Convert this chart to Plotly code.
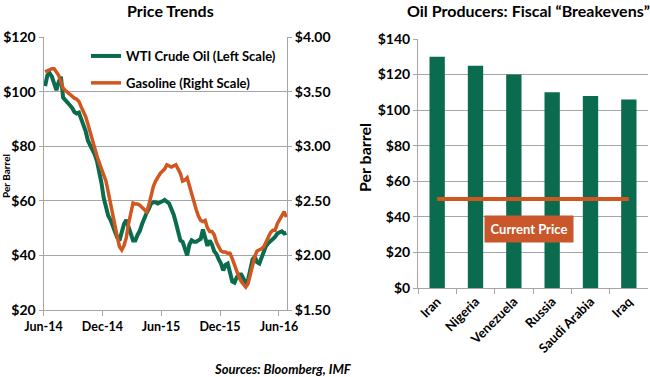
import plotly.graph_objects as go
import pandas as pd

# ---------------- data ----------------
wti = [102, 106, 106.8, 105.5, 103, 100.5, 103.5, 105.5, 97.8, 97,
       96, 95, 94, 92.5, 92, 92.3, 90, 88, 85.5, 82,
       80.5, 79, 77, 74.5, 71, 66.5, 61, 57, 54.5, 53,
       51, 48.5, 46.5, 45.5, 48.5, 51.5, 53, 50, 48, 45.5,
       45.5, 47.5, 49, 51.5, 54, 55.5, 57, 59, 59.5, 59.5,
       59, 59.3, 59.8, 60.3, 59.8, 59, 57, 55, 52, 49,
       45.5, 45, 42, 40, 44, 45.5, 45, 45, 45.5, 46,
       49.5, 46, 43.5, 45.5, 44, 41.5, 40.5, 38.5, 37, 34.5,
       36.5, 37, 34, 30.5, 30, 32, 33, 33, 31.5, 29.5,
       31, 34.5, 38.5, 39.5, 37.5, 37, 39, 41.5, 43.5, 44.5,
       45.5, 46, 46.8, 48, 48.5, 48.8, 48, 48.3]

gasoline = [3.68, 3.69, 3.70, 3.71, 3.71, 3.68, 3.65, 3.59, 3.53, 3.51,
            3.49, 3.47, 3.45, 3.44, 3.43, 3.41, 3.36, 3.32, 3.27, 3.20,
            3.12, 3.05, 2.98, 2.91, 2.85, 2.80, 2.74, 2.68, 2.58, 2.47,
            2.37, 2.27, 2.17, 2.08, 2.05, 2.09, 2.16, 2.29, 2.40, 2.48,
            2.47, 2.47, 2.46, 2.44, 2.42, 2.40, 2.46, 2.55, 2.63, 2.68,
            2.72, 2.75, 2.77, 2.79, 2.83, 2.82, 2.81, 2.82, 2.83, 2.79,
            2.75, 2.68, 2.69, 2.71, 2.63, 2.55, 2.48, 2.42, 2.36, 2.32,
            2.31, 2.32, 2.25, 2.22, 2.22, 2.19, 2.12, 2.07, 2.04, 2.03,
            2.03, 2.02, 2.02, 1.97, 1.91, 1.85, 1.80, 1.76, 1.73, 1.71,
            1.74, 1.82, 1.92, 1.99, 2.04, 2.05, 2.06, 2.08, 2.13, 2.17,
            2.21, 2.23, 2.23, 2.29, 2.33, 2.37, 2.40, 2.35]

dates = pd.date_range("2014-06-06", periods=len(wti), freq="W-FRI")

date_ticks = ["2014-06-01", "2014-12-01", "2015-06-01", "2015-12-01", "2016-06-01"]
date_tick_labels = ["Jun-14", "Dec-14", "Jun-15", "Dec-15", "Jun-16"]

countries = ["Iran", "Nigeria", "Venezuela", "Russia", "Saudi Arabia", "Iraq"]
breakevens = [130, 125, 120, 110, 108, 106]
current_price = 50

# ---------------- style ----------------
GREEN = "#0B6B4E"
ORANGE = "#D2561F"
GRID = "#A6A6A6"
FONT = "Lato"
W, H = 650, 377


def px_x(p):
    return p / W


def px_y(p):
    return 1 - p / H


bold = dict(family=FONT, size=14, color="black", weight="bold")

fig = go.Figure()

fig.add_trace(go.Scatter(x=dates, y=wti, mode="lines", name="WTI Crude Oil (Left Scale)",
                         line=dict(color=GREEN, width=4), xaxis="x", yaxis="y",
                         legendgroup="a"))
fig.add_trace(go.Scatter(x=dates, y=gasoline, mode="lines", name="Gasoline (Right Scale)",
                         line=dict(color=ORANGE, width=3.5), xaxis="x", yaxis="y2",
                         legendgroup="b"))

fig.add_trace(go.Bar(x=countries, y=breakevens, marker=dict(color=GREEN, line=dict(width=0)),
                     xaxis="x2", yaxis="y3", showlegend=False))
fig.add_trace(go.Scatter(x=[countries[0], countries[-1]], y=[current_price, current_price],
                         mode="lines", line=dict(color=ORANGE, width=4),
                         xaxis="x2", yaxis="y3", showlegend=False))

left_dom = [px_x(43.5), px_x(287)]
left_ydom = [px_y(310), px_y(37)]
right_dom = [px_x(418), px_x(648)]
right_ydom = [px_y(288), px_y(39)]

fig.update_layout(
    width=W, height=H,
    margin=dict(l=0, r=0, t=0, b=0, autoexpand=False),
    paper_bgcolor="white", plot_bgcolor="white",
    showlegend=True,
    bargap=0.6,
    legend=dict(x=px_x(86), y=px_y(41), xanchor="left", yanchor="top",
                font=dict(family=FONT, size=13, color="black", weight="bold"),
                bgcolor="rgba(0,0,0,0)", tracegroupgap=7, itemwidth=30),
    xaxis=dict(domain=left_dom, anchor="y", type="date", automargin=False,
               range=["2014-06-01", "2016-06-26"],
               tickvals=date_ticks, ticktext=date_tick_labels,
               ticks="outside", ticklen=5, tickcolor=GRID,
               showline=True, linecolor=GRID, linewidth=1,
               showgrid=False, zeroline=False,
               tickfont=dict(family=FONT, size=12.5, color="black", weight="bold")),
    yaxis=dict(domain=left_ydom, anchor="x", range=[20, 120], dtick=20, automargin=False,
               tickprefix="$", ticks="outside", ticklen=4, tickcolor=GRID,
               showline=True, linecolor=GRID, linewidth=1,
               showgrid=True, gridcolor=GRID, gridwidth=1, zeroline=False,
               tickfont=bold),
    yaxis2=dict(overlaying="y", side="right", anchor="x", range=[1.5, 4.0], dtick=0.5,
                automargin=False,
                tickprefix="$", tickformat=".2f", ticks="outside", ticklen=4, tickcolor=GRID,
                showline=True, linecolor=GRID, linewidth=1,
                showgrid=False, zeroline=False, tickfont=bold),
    xaxis2=dict(domain=right_dom, anchor="y3", type="category", automargin=False,
                tickangle=-45, ticks="outside", ticklen=5, tickcolor=GRID,
                tickson="boundaries",
                showline=True, linecolor=GRID, linewidth=1,
                showgrid=False, zeroline=False,
                tickfont=dict(family=FONT, size=13, color="black", weight="bold")),
    yaxis3=dict(domain=right_ydom, anchor="x2", range=[0, 140], dtick=20, automargin=False,
                tickprefix="$", ticks="outside", ticklen=4, tickcolor=GRID,
                showline=True, linecolor=GRID, linewidth=1,
                showgrid=True, gridcolor=GRID, gridwidth=1, zeroline=False,
                tickfont=bold),
)

title_font = dict(family=FONT, size=16, color="black", weight="bold")
annotations = [
    dict(text="Price Trends", x=px_x(170), y=px_y(11), xref="paper", yref="paper",
         xanchor="center", yanchor="middle", showarrow=False, font=title_font),
    dict(text="Oil Producers: Fiscal \u201cBreakevens\u201d", x=px_x(528), y=px_y(11),
         xref="paper", yref="paper", xanchor="center", yanchor="middle",
         showarrow=False, font=title_font),
    dict(text="Per Barrel", x=px_x(6), y=px_y(176), xref="paper", yref="paper",
         xanchor="center", yanchor="middle", showarrow=False, textangle=-90,
         font=dict(family=FONT, size=10, color="black", weight="bold")),
    dict(text="Per barrel", x=px_x(364), y=px_y(158), xref="paper", yref="paper",
         xanchor="center", yanchor="middle", showarrow=False, textangle=-90,
         font=dict(family=FONT, size=16, color="black", weight="bold")),
    dict(text="Current Price", x=2.4, y=33, xref="x2", yref="y3", showarrow=False,
         xanchor="center", yanchor="middle",
         bgcolor="#C9572B", width=84, height=22, borderpad=2,
         font=dict(family=FONT, size=13, color="white", weight="bold")),
    dict(text="<i>Sources: Bloomberg, IMF</i>", x=px_x(283), y=px_y(369),
         xref="paper", yref="paper", xanchor="center", yanchor="middle", showarrow=False,
         font=dict(family=FONT, size=13, color="black", weight="bold")),
]
fig.update_layout(annotations=annotations)

fig.write_html("out.html",
               config={"displayModeBar": False},
               post_script="document.body.style.margin='0';document.body.style.overflow='hidden';")
